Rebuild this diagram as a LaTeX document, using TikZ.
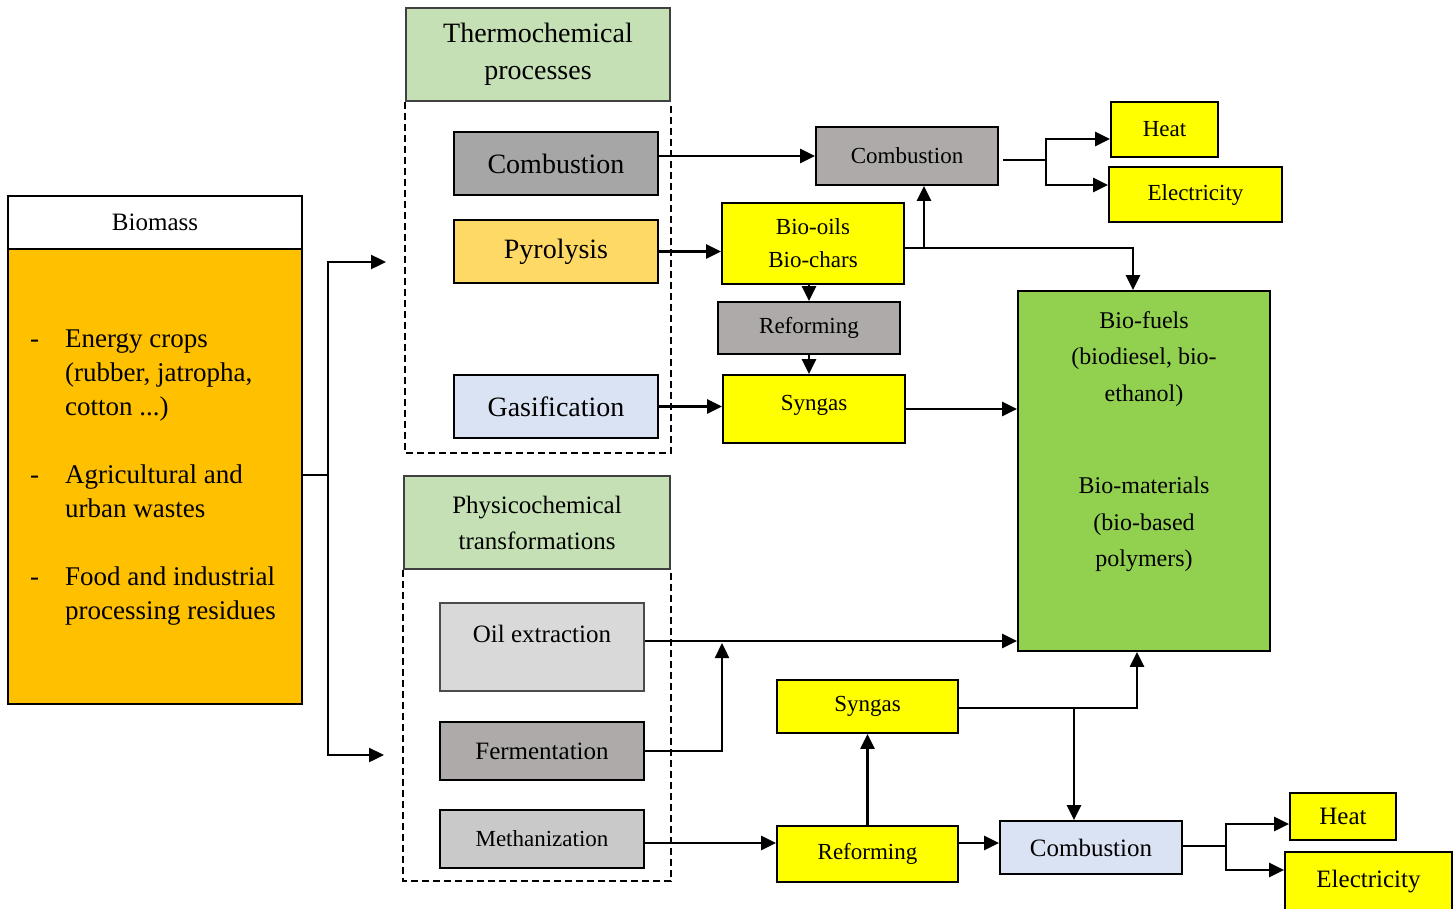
\documentclass[tikz,border=0pt]{standalone}
\usepackage{fontspec}
\setmainfont{Liberation Serif}
\usetikzlibrary{arrows.meta}
\definecolor{biomassorange}{HTML}{FFC000}
\definecolor{headgreen}{HTML}{C5E0B4}
\definecolor{fuelgreen}{HTML}{92D050}
\definecolor{darkgray}{HTML}{A6A6A6}
\definecolor{warmgray}{HTML}{AEAAAA}
\definecolor{lightgray}{HTML}{D9D9D9}
\definecolor{midgray}{HTML}{C9C9C9}
\definecolor{pyroyellow}{HTML}{FFD966}
\definecolor{paleblue}{HTML}{DAE3F3}
\definecolor{productyellow}{HTML}{FFFF00}
\tikzset{
  box/.style={draw, line width=1.8bp, inner sep=0pt, align=center},
  frame/.style={line width=1.4bp, dash pattern=on 7bp off 4bp},
  link/.style={line width=2.4bp},
  thin link/.style={line width=1.6bp},
  arr/.style={line width=2.4bp, -{Triangle[length=15bp,width=14bp]}},
  big/.style={font=\fontsize{28bp}{37bp}\selectfont},
  mid/.style={font=\fontsize{25bp}{36bp}\selectfont},
  small/.style={font=\fontsize{23bp}{33bp}\selectfont},
  product/.style={box, fill=productyellow, small},
}
\begin{document}
\begin{tikzpicture}[x=1bp,y=-1bp]
\useasboundingbox (0,0) rectangle (1453,908);

% biomass source
\node[box, minimum width=294bp, minimum height=53bp, mid] (bioHead) at (155,222.5) {Biomass};
\node[box, fill=biomassorange, minimum width=294bp, minimum height=455bp] (bioBody) at (155,476.5) {};
\node[inner sep=0pt, anchor=base west, font=\fontsize{27bp}{34bp}\selectfont] (bioList) at (30,347)
  {\begin{tabular}[t]{@{}p{35bp}@{}l@{}}
   -&Energy crops\\&(rubber, jatropha,\\&cotton ...)\\[34bp]
   -&Agricultural and\\&urban wastes\\[34bp]
   -&Food and industrial\\&processing residues
   \end{tabular}};

% thermochemical processes
\node[box, draw=black!75, fill=headgreen, minimum width=264bp, minimum height=93bp, big] (thHead) at (538,54.5) {Thermochemical\\processes};
\draw[frame] (thHead.south west) |- (thHead.south east |- 0,453) -- (thHead.south east);
\node[box, fill=darkgray, minimum width=204bp, minimum height=63bp, big] (comb1) at (556,163.5) {Combustion};
\node[box, fill=pyroyellow, minimum width=204bp, minimum height=63bp, big] (pyro) at (556,251.5) {Pyrolysis};
\node[box, fill=paleblue, minimum width=204bp, minimum height=63bp, big] (gasi) at (556,406.5) {Gasification};

% physicochemical transformations
\node[box, draw=black!75, fill=headgreen, minimum width=266bp, minimum height=93bp, mid] (phHead) at (537,522.5) {Physicochemical\\transformations};
\draw[frame] (phHead.south west) |- (phHead.south east |- 0,881) -- (phHead.south east);
\node[box, draw=black!70, fill=lightgray, minimum width=204bp, inner ysep=0pt, text height=39bp, text depth=49bp, font=\fontsize{25bp}{30bp}\selectfont] (oil) at (542,647) {Oil extraction};
\node[box, fill=warmgray, minimum width=204bp, minimum height=58bp, font=\fontsize{25bp}{30bp}\selectfont] (ferm) at (542,751) {Fermentation};
\node[box, fill=midgray, minimum width=204bp, minimum height=58bp, small] (meth) at (542,839) {Methanization};

% intermediate and final products
\node[box, fill=warmgray, minimum width=182bp, minimum height=58bp, small] (comb2) at (907,156) {Combustion};
\node[product, minimum width=107bp, minimum height=55bp] (heat1) at (1164.5,129.5) {Heat};
\node[product, minimum width=173bp, minimum height=55bp] (elec1) at (1195.5,194.5) {Electricity};
\node[product, minimum width=182bp, minimum height=81bp] (oils) at (813,243.5) {Bio-oils\\Bio-chars};
\node[box, fill=warmgray, minimum width=182bp, minimum height=52bp, small] (ref1) at (809,328) {Reforming};
\node[product, minimum width=182bp, inner ysep=0pt, text height=35bp, text depth=33bp] (syn1) at (814,409) {Syngas};
\node[box, fill=fuelgreen, minimum width=252bp, minimum height=360bp] (fuels) at (1144,471) {};
\node[inner sep=0pt, anchor=base, font=\fontsize{24bp}{36.5bp}\selectfont] (fuelsText) at (1144,328)
  {\begin{tabular}[t]{@{}c@{}}
   Bio-fuels\\(biodiesel, bio-\\ethanol)\\[56bp]
   Bio-materials\\(bio-based\\polymers)
   \end{tabular}};
\node[product, minimum width=181bp, minimum height=53bp] (syn2) at (867.5,706.5) {Syngas};
\node[product, minimum width=181bp, minimum height=56bp] (ref2) at (867.5,854) {Reforming};
\node[box, fill=paleblue, minimum width=182bp, minimum height=53bp, mid] (comb3) at (1091,847.5) {Combustion};
\node[product, minimum width=106bp, minimum height=47bp, mid] (heat2) at (1343,816.5) {Heat};
\node[product, minimum width=167bp, minimum height=60bp, mid] (elec2) at (1368.5,882) {Electricity};

% source split
\coordinate (split) at (328,475);
\coordinate (thIn) at (386,262);
\coordinate (phIn) at (384,755);
\draw[thin link] (bioBody.east |- split) -- (split);
\draw[arr] (split) |- (thIn);
\draw[arr] (split) |- (phIn);

% thermochemical routes
\draw[arr] (comb2.west -| comb1.east) -- (comb2.west);
\coordinate (hub1) at (1046,160);
\draw[thin link] ([xshift=4bp]comb2.east |- hub1) -- (hub1);
\draw[arr] (hub1) |- (heat1.west |- 0,139);
\draw[arr] (hub1) |- (elec1.west |- 0,185);
\draw[arr] (pyro.east) -- (pyro.east -| oils.west);
\coordinate (oilsUp) at (924,248);
\draw[arr] (oils.east |- oilsUp) -| ([xshift=-11bp]fuels.north);
\draw[arr] (oilsUp) -- (oilsUp |- comb2.south);
\draw[arr] (oils.south -| ref1.north) -- (ref1.north);
\draw[arr] (ref1.south) -- (ref1.south |- syn1.north);
\draw[arr] (gasi.east) -- (gasi.east -| syn1.west);
\draw[arr] (syn1.east) -- (syn1.east -| fuels.west);

% physicochemical routes
\draw[arr] (oil.east |- 0,641) -- (fuels.west |- 0,641);
\coordinate (fermUp) at (722,643);
\draw[arr] (ferm.east) -| (fermUp);
\draw[arr] (meth.east |- 0,843) -- (ref2.west |- 0,843);
\draw[arr] (ref2.north) -- (syn2.south);
\draw[arr] (ref2.east |- 0,843) -- (comb3.west |- 0,843);
\coordinate (synDown) at (1074,708);
\draw[link] (syn2.east |- synDown) -- (synDown);
\draw[arr] (synDown) -| ([xshift=-7bp]fuels.south);
\draw[arr] (synDown) -- (synDown |- comb3.north);
\coordinate (hub2) at (1226,846);
\draw[thin link] (comb3.east |- hub2) -- (hub2);
\draw[arr] (hub2) |- (heat2.west |- 0,824);
\draw[arr] (hub2) |- (elec2.west |- 0,870);
\end{tikzpicture}
\end{document}
